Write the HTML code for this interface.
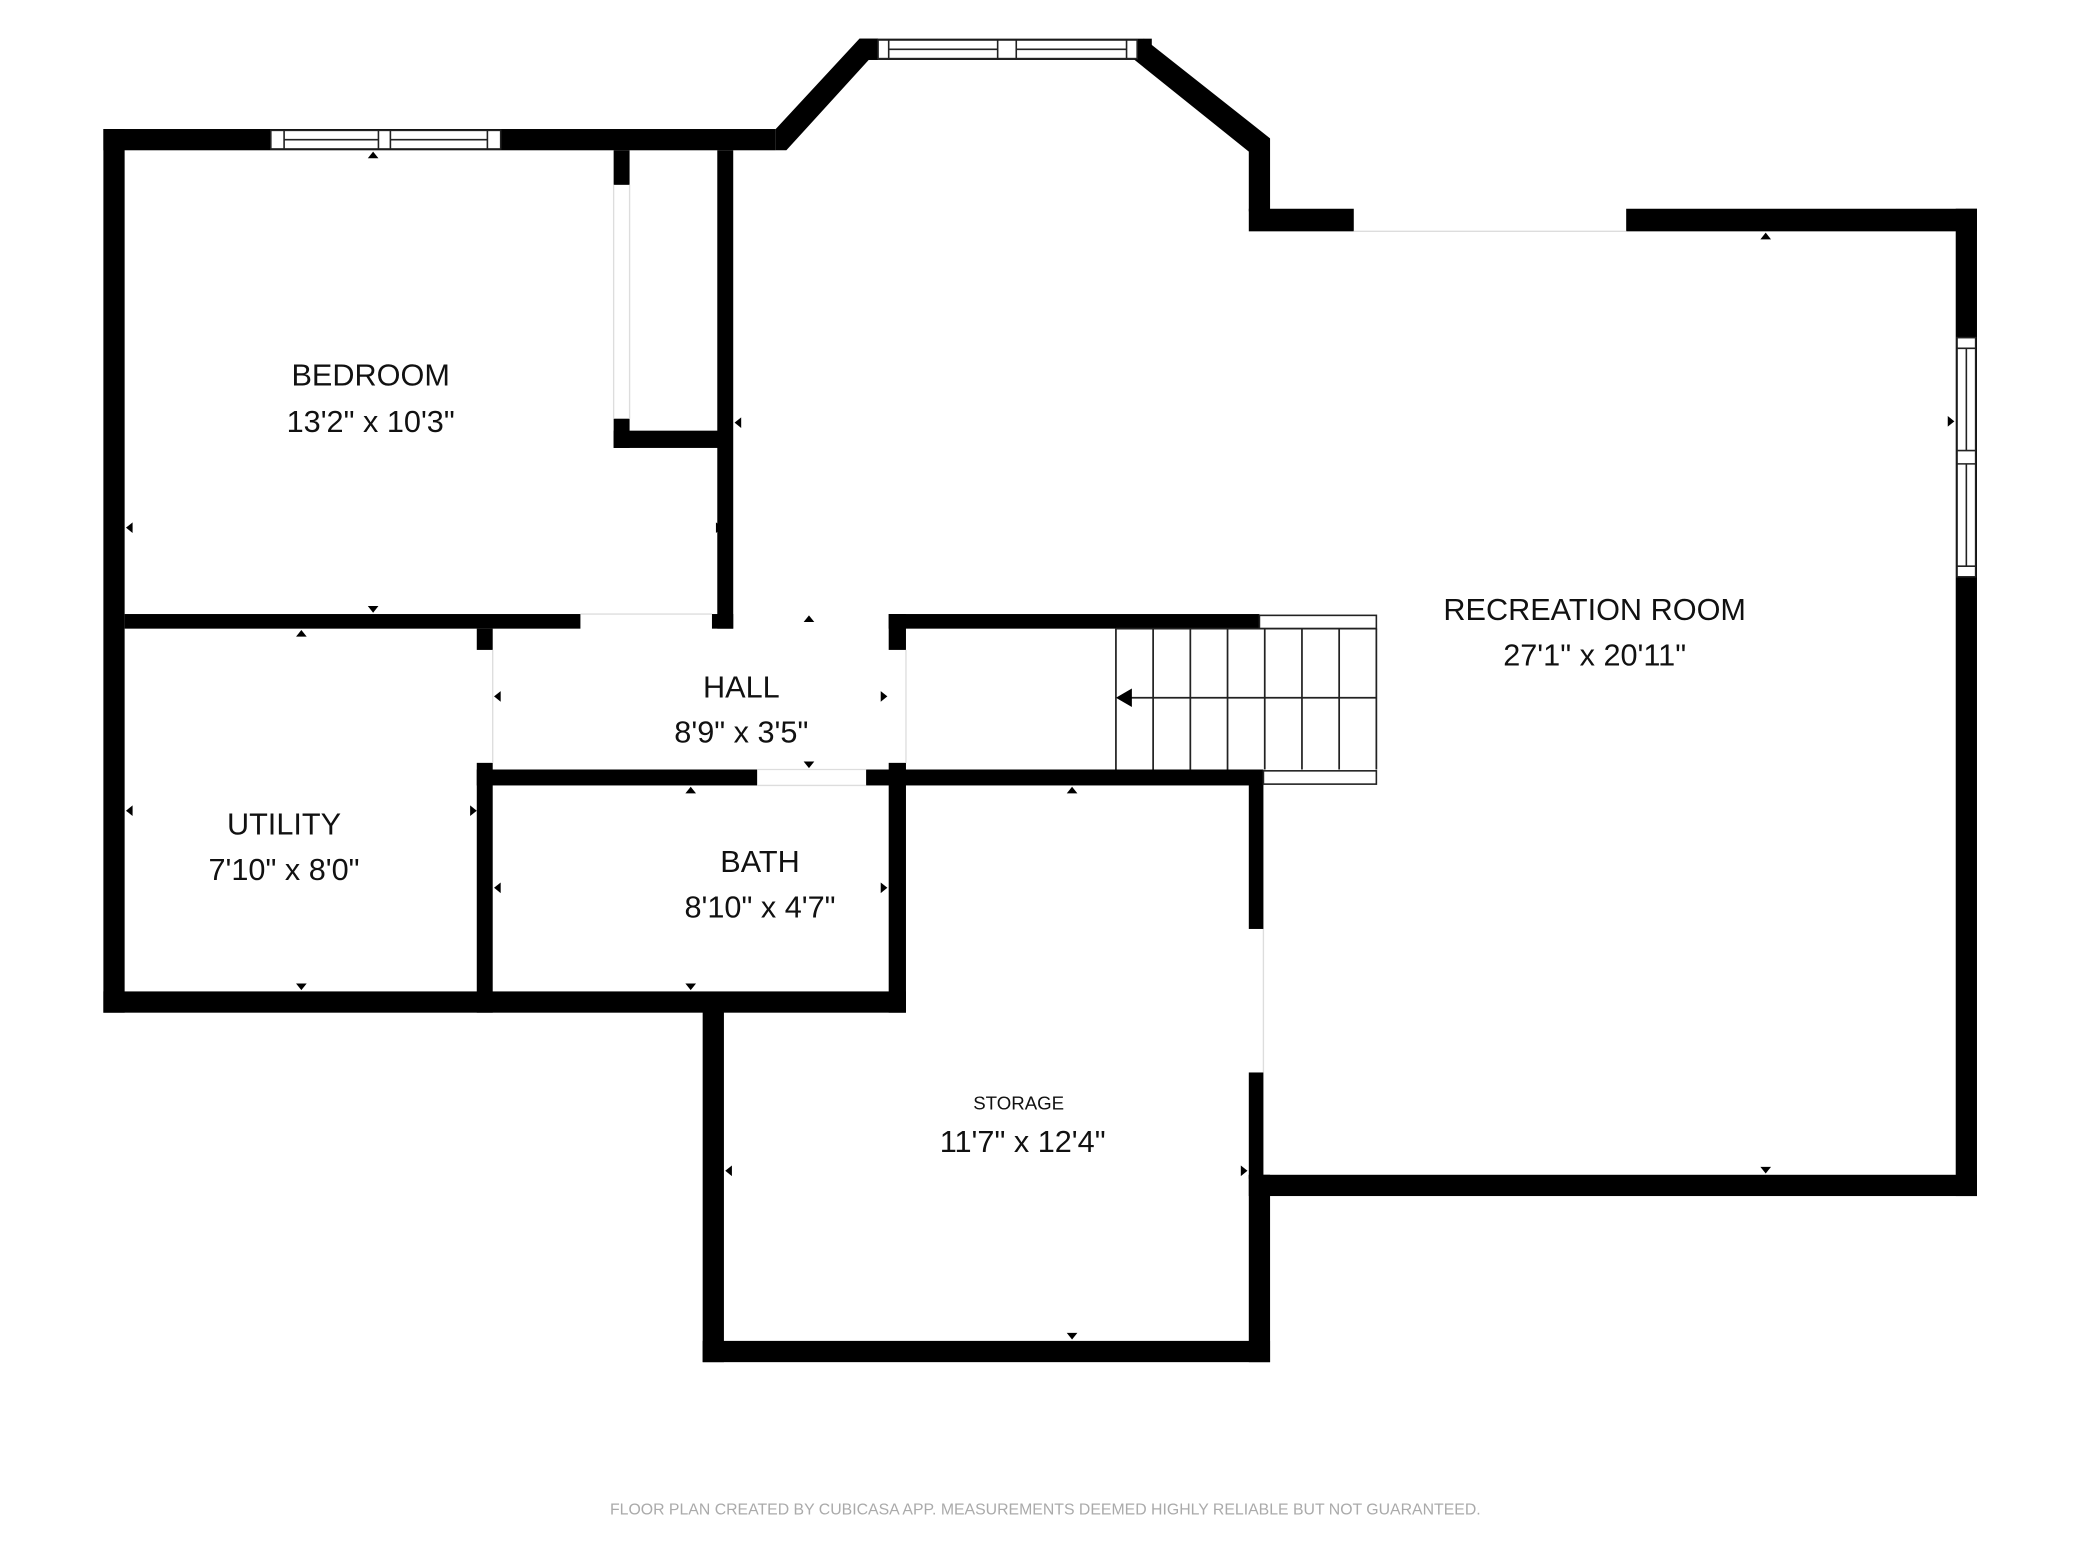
<!DOCTYPE html>
<html><head><meta charset="utf-8"><style>
html,body{margin:0;padding:0;background:#fff}
svg{display:block}
text{font-family:"Liberation Sans",sans-serif;fill:#111;text-anchor:middle}
</style></head><body>
<svg width="2080" height="1560" viewBox="0 0 1560 1170" xmlns="http://www.w3.org/2000/svg">
<rect width="1560" height="1170" fill="#fff"/>
<g transform="translate(-1.2,-0.9) scale(0.9966)">
<g fill="#000">
<rect x="79" y="98" width="16" height="665"/>
<rect x="79" y="98" width="506" height="16"/>
<polygon points="585,98 648,30 662,30 662,46 655,46 593,114 585,114"/>
<rect x="648" y="30" width="220" height="16"/>
<polygon points="862,30 957,105 957,160 941,160 941,115 855,46"/>
<rect x="941" y="158" width="79" height="17"/>
<rect x="1225" y="158" width="264" height="17"/>
<rect x="1473" y="158" width="16" height="743"/>
<rect x="941" y="885" width="548" height="16"/>
<rect x="941" y="885" width="16" height="141"/>
<rect x="530" y="1010" width="427" height="16"/>
<rect x="530" y="750" width="16" height="276"/>
<rect x="79" y="747" width="604" height="16"/>
<rect x="670" y="580" width="13" height="183"/>
<rect x="941" y="590" width="11" height="110"/>
<rect x="941" y="808" width="11" height="80"/>
<rect x="95" y="463" width="343" height="11"/>
<rect x="537" y="463" width="16" height="11"/>
<rect x="541" y="114" width="12" height="360"/>
<rect x="463" y="114" width="12" height="26"/>
<rect x="463" y="316" width="12" height="22"/>
<rect x="463" y="325" width="84" height="13"/>
<rect x="360" y="474" width="12" height="16"/>
<rect x="360" y="575" width="12" height="188"/>
<rect x="360" y="580" width="211" height="12"/>
<rect x="653" y="580" width="30" height="12"/>
<rect x="670" y="463" width="13" height="27"/>
<rect x="670" y="575" width="13" height="17"/>
<rect x="670" y="463" width="279" height="11"/>
<rect x="683" y="580" width="269" height="12"/>
</g>
<g fill="none" stroke="#ddd" stroke-width="1">
<line x1="1020" y1="175" x2="1225" y2="175"/>
<line x1="463" y1="140" x2="463" y2="316"/><line x1="475" y1="140" x2="475" y2="316"/>
<line x1="438" y1="463" x2="537" y2="463"/>
<line x1="372" y1="490" x2="372" y2="575"/>
<line x1="571" y1="592" x2="653" y2="592"/><line x1="571" y1="580" x2="653" y2="580"/>
<line x1="683" y1="490" x2="683" y2="575"/>
<line x1="952" y1="700" x2="952" y2="808"/>
</g>
<g fill="#fff" stroke="#222" stroke-width="1.2">
<rect x="205" y="99" width="173" height="14"/>
<line x1="215" y1="99" x2="215" y2="113"/><line x1="286" y1="99" x2="286" y2="113"/><line x1="295" y1="99" x2="295" y2="113"/><line x1="368" y1="99" x2="368" y2="113"/>
<line x1="215" y1="106" x2="286" y2="106"/><line x1="295" y1="106" x2="368" y2="106"/>
<rect x="662" y="31" width="195" height="14"/>
<line x1="670" y1="31" x2="670" y2="45"/><line x1="752" y1="31" x2="752" y2="45"/><line x1="766" y1="31" x2="766" y2="45"/><line x1="849" y1="31" x2="849" y2="45"/>
<line x1="670" y1="38" x2="752" y2="38"/><line x1="766" y1="38" x2="849" y2="38"/>
<rect x="1474" y="255" width="14" height="180"/>
<line x1="1474" y1="263" x2="1488" y2="263"/><line x1="1474" y1="340" x2="1488" y2="340"/><line x1="1474" y1="350" x2="1488" y2="350"/><line x1="1474" y1="427" x2="1488" y2="427"/>
<line x1="1481" y1="263" x2="1481" y2="340"/><line x1="1481" y1="350" x2="1481" y2="427"/>
<rect x="949" y="464" width="88" height="10"/>
<rect x="952" y="581" width="85" height="10"/>
</g>
<g stroke="#222" stroke-width="1.3" fill="none">
<line x1="841" y1="474" x2="841" y2="580"/><line x1="869" y1="474" x2="869" y2="580"/><line x1="897" y1="474" x2="897" y2="580"/><line x1="925" y1="474" x2="925" y2="580"/><line x1="953" y1="474" x2="953" y2="580"/><line x1="981" y1="474" x2="981" y2="580"/><line x1="1009" y1="474" x2="1009" y2="580"/><line x1="1037" y1="474" x2="1037" y2="580"/>
<line x1="841" y1="474" x2="1037" y2="474"/>
<line x1="848" y1="526" x2="1037" y2="526"/>
</g>
<polygon points="841,526 853,519 853,533" fill="#000"/>
<g fill="#000">
<polygon points="282,115 278,120 286,120"/><polygon points="282,462 278,457 286,457"/>
<polygon points="96,398 101,394 101,402"/><polygon points="545,398 540,394 540,402"/>
<polygon points="554,319 559,315 559,323"/>
<polygon points="228,475 224,480 232,480"/><polygon points="228,746 224,741 232,741"/>
<polygon points="96,611 101,607 101,615"/><polygon points="360,611 355,607 355,615"/>
<polygon points="610,464 606,469 614,469"/><polygon points="610,579 606,574 614,574"/>
<polygon points="373,525 378,521 378,529"/><polygon points="669,525 664,521 664,529"/>
<polygon points="521,593 517,598 525,598"/><polygon points="521,746 517,741 525,741"/>
<polygon points="373,669 378,665 378,673"/><polygon points="669,669 664,665 664,673"/>
<polygon points="808,593 804,598 812,598"/><polygon points="808,1009 804,1004 812,1004"/>
<polygon points="547,882 552,878 552,886"/><polygon points="940,882 935,878 935,886"/>
<polygon points="1330,176 1326,181 1334,181"/><polygon points="1330,884 1326,879 1334,879"/>
<polygon points="1472,318 1467,314 1467,322"/>
</g>
</g>
<text x="278" y="289" font-size="23">BEDROOM</text>
<text x="278" y="324" font-size="23">13'2" x 10'3"</text>
<text x="1196" y="465" font-size="23">RECREATION ROOM</text>
<text x="1196" y="499" font-size="23">27'1" x 20'11"</text>
<text x="556" y="523" font-size="23">HALL</text>
<text x="556" y="557" font-size="23">8'9" x 3'5"</text>
<text x="213" y="626" font-size="23">UTILITY</text>
<text x="213" y="660" font-size="23">7'10" x 8'0"</text>
<text x="570" y="654" font-size="23">BATH</text>
<text x="570" y="688" font-size="23">8'10" x 4'7"</text>
<text x="764" y="832" font-size="14">STORAGE</text>
<text x="767" y="864" font-size="23">11'7" x 12'4"</text>
<text x="784" y="1136" font-size="11.5" textLength="653" lengthAdjust="spacingAndGlyphs" style="fill:#aaa">FLOOR PLAN CREATED BY CUBICASA APP. MEASUREMENTS DEEMED HIGHLY RELIABLE BUT NOT GUARANTEED.</text>
</svg>
</body></html>
